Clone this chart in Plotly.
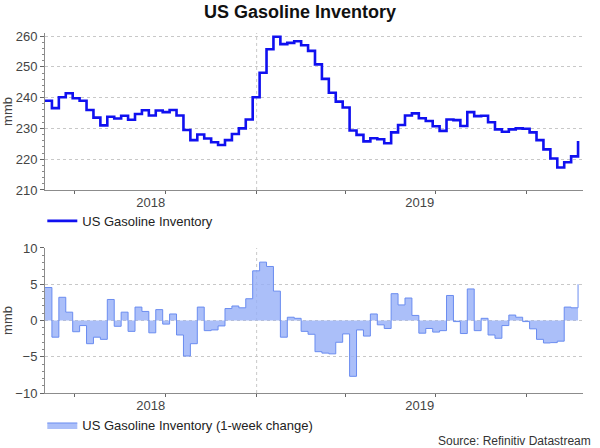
import pandas as pd
import plotly.graph_objects as go

# weekly EIA dates (week ending, Fridays)
weeks = pd.date_range("2018-06-01", periods=78, freq="7D")

# total motor gasoline stocks, million barrels
inventory = [
    239.0, 236.6, 240.1, 241.4, 239.8, 239.0, 236.0, 233.5, 231.0, 233.8,
    233.2, 234.1, 232.8, 234.7, 235.9, 234.2, 235.8, 235.3, 236.0, 234.2,
    229.5, 226.2, 228.0, 226.7, 225.5, 224.6, 226.2, 228.2, 230.0, 232.9,
    240.1, 248.1, 255.7, 259.8, 257.4, 257.8, 258.3, 257.0, 255.2, 250.8,
    246.1, 241.6, 238.7, 236.8, 229.3, 227.9, 225.8, 226.8, 226.5, 225.2,
    228.7, 231.1, 234.2, 234.9, 233.3, 232.4, 230.7, 229.2, 232.9, 232.7,
    230.8, 235.3, 234.0, 234.1, 232.0, 229.7, 228.9, 229.7, 230.0, 229.9,
    228.7, 226.2, 223.2, 220.2, 217.3, 219.0, 220.9, 225.9,
]

# 1-week change, million barrels
weekly_change = [
    4.55, -2.3, 3.2, 1.15, -1.55, -0.7, -3.2, -2.3, -2.6, 2.9,
    -0.8, 1.15, -1.5, 1.85, 1.25, -1.7, 1.5, -0.5, 0.9, -2.0,
    -4.9, -3.2, 1.85, -1.4, -1.3, -0.75, 1.65, 2.0, 1.75, 3.0,
    6.85, 8.05, 7.45, 4.05, -2.3, 0.45, 0.3, -1.5, -1.9, -4.3,
    -4.5, -4.6, -3.0, -1.85, -7.7, -1.3, -2.15, 0.9, -0.6, -1.1,
    3.7, 2.15, 3.1, 0.7, -1.75, -1.1, -1.6, -1.4, 3.45, -0.15,
    -1.8, 4.35, -1.4, 0.3, -2.0, -2.45, -0.7, 0.75, 0.45, -0.15,
    -1.15, -2.6, -3.1, -3.05, -2.85, 1.85, 1.75, 5.0,
]

year_labels = ["2018", "2019"]
year_label_pos = ["2018-09-16", "2019-06-15"]
year_start = "2019-01-01"
x_range = ["2018-06-01", "2019-11-27"]

FONT = "Liberation Sans, Arial, sans-serif"
GRID = "#c8c8c8"
AXIS = "#8c8c8c"
TEXT = "#444444"

fig = go.Figure()

fig.add_trace(go.Scatter(
    x=weeks, y=inventory, mode="lines", line_shape="hv",
    line=dict(color="#1010f0", width=2.6),
    name="US Gasoline Inventory", legend="legend",
    xaxis="x", yaxis="y",
))

fig.add_trace(go.Scatter(
    x=weeks, y=weekly_change, mode="lines", line_shape="hv",
    fill="tozeroy", fillcolor="rgba(150,175,247,0.8)",
    line=dict(color="#6a8cf0", width=1),
    name="US Gasoline Inventory (1-week change)", legend="legend2",
    xaxis="x2", yaxis="y2",
))

xcommon = dict(
    type="date", range=x_range, automargin=False,
    tickvals=year_label_pos, ticktext=year_labels,
    ticks="", showgrid=False, zeroline=False,
    showline=True, linecolor=AXIS, linewidth=1,
    tickfont=dict(size=13, color=TEXT),
    minor=dict(dtick="M3", tick0="2018-01-01", ticks="outside",
               ticklen=3, tickcolor="#666", showgrid=False),
)
ycommon = dict(
    automargin=False,
    showgrid=True, gridcolor=GRID, griddash="dot", gridwidth=1,
    zeroline=False, showline=True, linecolor=AXIS, linewidth=1,
    ticks="outside", ticklen=4, tickcolor="#666",
    tickfont=dict(size=13, color=TEXT),
    title=dict(text="mmb", font=dict(size=13, color=TEXT), standoff=4),
)

fig.update_layout(
    width=600, height=448,
    margin=dict(l=45, r=17, t=33, b=55, autoexpand=False),
    paper_bgcolor="white", plot_bgcolor="white",
    font=dict(family=FONT, color=TEXT),
    title=dict(text="<b>US Gasoline Inventory</b>", x=0.5, y=0.973,
               xanchor="center", yanchor="middle",
               font=dict(size=18, color="#111")),
    xaxis=dict(xcommon, domain=[0, 1], anchor="y"),
    yaxis=dict(ycommon, domain=[0.564, 1], range=[210, 261],
               tickvals=[210, 220, 230, 240, 250, 260],
               minor=dict(dtick=2, ticks="outside", ticklen=2, tickcolor="#888")),
    xaxis2=dict(xcommon, domain=[0, 1], anchor="y2"),
    yaxis2=dict(ycommon, domain=[0, 0.4028], range=[-10, 10],
                tickvals=[-10, -5, 0, 5, 10],
                minor=dict(dtick=1, ticks="outside", ticklen=2, tickcolor="#888")),
    legend=dict(x=-0.005, y=0.478, xanchor="left", yanchor="middle",
                font=dict(size=13, color="#222"), bgcolor="rgba(0,0,0,0)"),
    legend2=dict(x=-0.005, y=-0.089, xanchor="left", yanchor="middle",
                 font=dict(size=13, color="#222"), bgcolor="rgba(0,0,0,0)"),
    showlegend=True,
    annotations=[dict(text="Source: Refinitiv Datastream", xref="paper", yref="paper",
                      x=1.019, y=-0.133, xanchor="right", yanchor="middle",
                      showarrow=False, font=dict(size=12, color="#333"))],
    shapes=[
        dict(type="line", xref="x", yref="y domain", x0=year_start, x1=year_start,
             y0=0, y1=1, line=dict(color=GRID, width=1, dash="dot"), layer="below"),
        dict(type="line", xref="x2", yref="y2 domain", x0=year_start, x1=year_start,
             y0=0, y1=1, line=dict(color=GRID, width=1, dash="dot"), layer="below"),
    ],
)

# page body has an 8px default margin; drop it so the figure sits at 0,0
fig.write_html("out.html", config={"displayModeBar": False},
               post_script="document.body.style.margin='0';")
